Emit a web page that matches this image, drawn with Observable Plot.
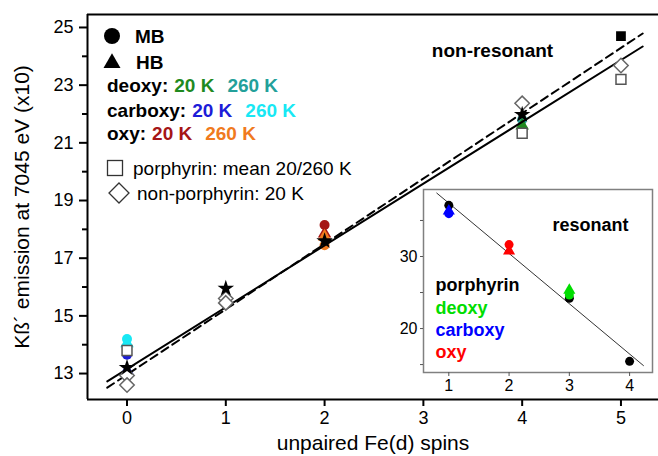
<!DOCTYPE html>
<html><head><meta charset="utf-8">
<script src="https://cdn.jsdelivr.net/npm/d3@7"></script>
<script src="https://cdn.jsdelivr.net/npm/@observablehq/plot@0.6"></script>
<style>
html,body{margin:0;padding:0;background:#fff;overflow:hidden}
#wrap{position:relative;width:658px;height:456px}
#inset{position:absolute;left:393px;top:184px}
</style></head><body><div id="wrap"><div id="main"></div><div id="inset"></div></div>
<script>
const FONT = '"Liberation Sans", Arial, sans-serif';

// ---------- main panel (non-resonant) ----------
const xLabel = "unpaired Fe(d) spins";
const yLabel = "Kß´ emission at 7045 eV (x10)";
const xTicks = [0, 1, 2, 3, 4, 5];
const yTicks = [13, 15, 17, 19, 21, 23, 25];
const yMinor = [14, 16, 18, 20, 22, 24];

const hemeSpin    = [0, 0, 0, 0, 2, 2, 2, 2, 4, 4];
const hemeValue   = [14.2, 14.05, 13.65, 13.1, 18.15, 17.85, 17.75, 17.45, 21.8, 21.6];
const hemeSeries  = ["carboxy 260 K", "carboxy 260 K", "carboxy 20 K", "carboxy 20 K", "oxy 20 K", "oxy 20 K", "oxy 260 K", "oxy 260 K", "deoxy 260 K", "deoxy 20 K"];
const hemeProtein = ["MB", "HB", "MB", "HB", "MB", "HB", "HB", "MB", "MB", "HB"];

const porphSpin     = [0, 4, 5];
const porphValue    = [13.8, 21.33, 23.2];
const nonPorphSpin  = [0, 0, 1, 1, 4, 5];
const nonPorphValue = [12.93, 12.6, 15.6, 15.45, 22.37, 23.68];
const starSpin      = [0, 1, 2, 4];
const starValue     = [13.2, 15.95, 17.6, 21.98];
const refSpin       = [5];
const refValue      = [24.7];

const fitSpin   = [-0.2, 5.22];
const fitSolid  = [12.73, 24.34];
const fitDashed = [12.51, 24.79];

const seriesForms  = ["deoxy", "carboxy", "oxy"];
const seriesTemps  = ["20 K", "260 K"];
const seriesNames  = ["deoxy 20 K", "deoxy 260 K", "carboxy 20 K", "carboxy 260 K", "oxy 20 K", "oxy 260 K"];
const seriesColors = ["#1f8a1f", "#23a09a", "#1c1cd8", "#18e8f4", "#a51616", "#f07a1e"];

// ---------- inset (resonant) ----------
const rSpin    = [1, 1, 1, 2, 2, 3, 3, 3, 4];
const rValue   = [37.1, 36.3, 35.95, 31.65, 30.75, 24.2, 25.3, 24.65, 15.45];
const rGroup   = ["porphyrin", "carboxy", "carboxy", "oxy", "oxy", "porphyrin", "deoxy", "deoxy", "porphyrin"];
const rProtein = ["MB", "HB", "MB", "MB", "HB", "MB", "HB", "MB", "MB"];
const rGroups  = ["porphyrin", "deoxy", "carboxy", "oxy"];
const rColors  = ["#000000", "#00dd00", "#0000ff", "#ff0000"];
const rFitSpin  = [0.8, 4.23];
const rFitValue = [38.8, 14.86];

const zip = (xs, ys) => xs.map((x, i) => ({x, y: ys[i]}));
const heme = hemeSpin.map((x, i) => ({x, y: hemeValue[i], s: hemeSeries[i], p: hemeProtein[i]}));
const xDom = [-0.4, 5.38], yDom = [12.1, 25.45];
const intFmt = d => String(d);

const main = Plot.plot({
  width: 658, height: 456,
  marginLeft: 87, marginRight: 0, marginTop: 14, marginBottom: 57,
  style: {fontFamily: FONT, background: "white", color: "black"},
  x: {domain: xDom},
  y: {domain: yDom},
  color: {domain: seriesNames, range: seriesColors},
  symbol: {domain: ["MB", "HB"], range: ["circle", "triangle"]},
  marks: [
    Plot.axisX({ticks: xTicks, tickFormat: intFmt, tickSize: 7, tickPadding: 5, fontSize: 18, label: null, strokeWidth: 2}),
    Plot.axisY({ticks: yTicks, tickFormat: intFmt, tickSize: 8, tickPadding: 6, fontSize: 18, label: null, strokeWidth: 2}),
    Plot.axisY({ticks: yMinor, tickSize: 5, tickFormat: () => "", label: null, strokeWidth: 2}),
    Plot.ruleX([xDom[0]], {strokeWidth: 2}),
    Plot.ruleY(yDom, {strokeWidth: 2}),
    Plot.dot(heme, {x: "x", y: "y", fill: "s", symbol: "p", r: 5}),
    Plot.line(zip(fitSpin, fitSolid), {x: "x", y: "y", stroke: "black", strokeWidth: 2}),
    Plot.line(zip(fitSpin, fitDashed), {x: "x", y: "y", stroke: "black", strokeWidth: 2, strokeDasharray: "8,5"}),
    Plot.dot(zip(porphSpin, porphValue), {x: "x", y: "y", symbol: "square", r: 5.6, fill: "white", stroke: "#555", strokeWidth: 1.5}),
    Plot.dot(zip(nonPorphSpin, nonPorphValue), {x: "x", y: "y", symbol: "diamond2", r: 6.5, fill: "white", stroke: "#666", strokeWidth: 1.5}),
    Plot.dot(zip(starSpin, starValue), {x: "x", y: "y", symbol: "star", r: 5.2, fill: "black"}),
    Plot.dot(zip(refSpin, refValue), {x: "x", y: "y", symbol: "square", r: 5.5, fill: "black"}),
    Plot.text(["non-resonant"], {frameAnchor: "top-left", dx: 405, dy: 29, textAnchor: "middle", fontSize: 19, fontWeight: "bold"}),
    Plot.text([yLabel], {frameAnchor: "left", rotate: -90, dx: -65, textAnchor: "middle", lineAnchor: "middle", fontSize: 21}),
    Plot.text([xLabel], {frameAnchor: "bottom", dy: 44, textAnchor: "middle", lineAnchor: "middle", fontSize: 21})
  ]
});
document.getElementById("main").appendChild(main);

// legend of main panel
const L = d3.select(main).append("g")
  .attr("font-family", FONT).attr("font-weight", "bold").attr("font-size", 19)
  .attr("fill", "black").attr("text-anchor", "start");
L.append("path").attr("d", d3.symbol(d3.symbolCircle, Math.PI * 64)()).attr("transform", "translate(112,36)");
L.append("text").attr("x", 135).attr("y", 36).attr("dy", "0.35em").text("MB");
L.append("path").attr("d", d3.symbol(d3.symbolTriangle, 125)()).attr("transform", "translate(112,63)");
L.append("text").attr("x", 136).attr("y", 62).attr("dy", "0.35em").text("HB");
const rowY = [85, 110, 133];
seriesForms.forEach((f, i) => {
  const t = L.append("text").attr("x", 107).attr("y", rowY[i]).attr("dy", "0.35em");
  t.append("tspan").text(f + ":");
  seriesTemps.forEach((tp, j) => {
    const k = seriesNames.indexOf(f + " " + tp);
    t.append("tspan").attr("dx", j === 0 ? 6 : 13).attr("fill", seriesColors[k]).text(tp);
  });
});
L.append("rect").attr("x", 107.5).attr("y", 160.5).attr("width", 15).attr("height", 15)
  .attr("fill", "none").attr("stroke", "#333").attr("stroke-width", 1.3);
L.append("text").attr("x", 133).attr("y", 168).attr("dy", "0.35em").attr("font-weight", "normal").text("porphyrin: mean 20/260 K");
L.append("path").attr("d", "M119,183 L129,193 L119,203 L109,193 Z")
  .attr("fill", "none").attr("stroke", "#333").attr("stroke-width", 1.3);
L.append("text").attr("x", 137).attr("y", 193).attr("dy", "0.35em").attr("font-weight", "normal").text("non-porphyrin: 20 K");

// ---------- inset ----------
const res = rSpin.map((x, i) => ({x, y: rValue[i], g: rGroup[i], p: rProtein[i]}));
const inset = Plot.plot({
  width: 265, height: 212,
  marginLeft: 30, marginRight: 6, marginTop: 5, marginBottom: 24,
  style: {fontFamily: FONT, background: "transparent", overflow: "visible", color: "black"},
  x: {domain: [0.58, 4.38]},
  y: {domain: [13.9, 39.3]},
  color: {domain: rGroups, range: rColors},
  symbol: {domain: ["MB", "HB"], range: ["circle", "triangle"]},
  marks: [
    Plot.frame({fill: "white", stroke: "#808080", strokeWidth: 1.5}),
    Plot.axisX({ticks: [1, 2, 3, 4], tickFormat: intFmt, tickSize: 4, tickPadding: 3, fontSize: 16, label: null, stroke: "#555"}),
    Plot.axisY({ticks: [15, 20, 25, 30, 35], tickSize: 3, tickPadding: 3, fontSize: 16, label: null, stroke: "#555",
                tickFormat: d => d % 10 === 0 ? String(d) : ""}),
    Plot.line(zip(rFitSpin, rFitValue), {x: "x", y: "y", stroke: "#333", strokeWidth: 1}),
    Plot.dot(res, {x: "x", y: "y", fill: "g", symbol: "p", r: 4.5}),
    Plot.text(["resonant"], {frameAnchor: "top-right", dx: -62, dy: 29, textAnchor: "middle", fontSize: 18, fontWeight: "bold"}),
    ...rGroups.map((g, i) => Plot.text([g], {frameAnchor: "top-left", dx: 12, dy: 96 + i * 22.3, textAnchor: "start", lineAnchor: "middle", fontSize: 18, fontWeight: "bold", fill: rColors[i]}))
  ]
});
document.getElementById("inset").appendChild(inset);
</script>
</body></html>
